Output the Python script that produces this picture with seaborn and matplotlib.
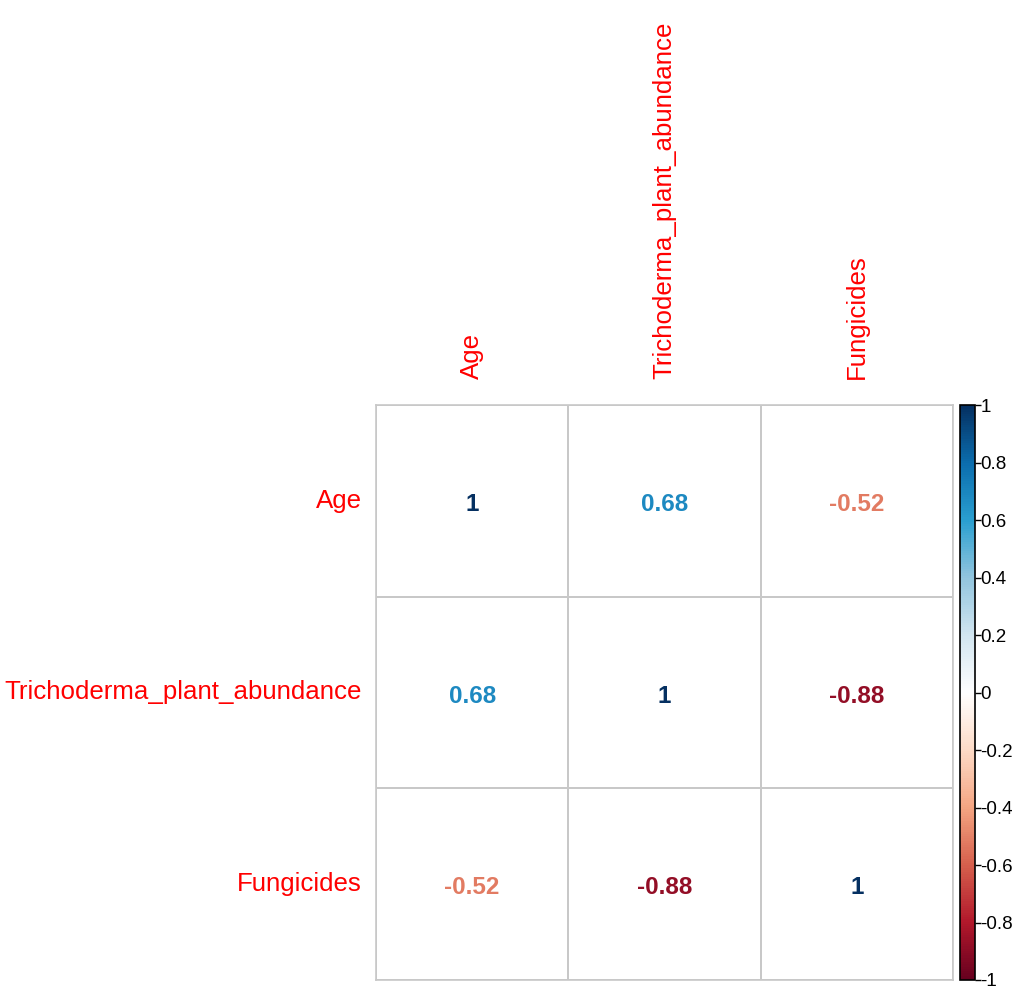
import numpy as np
import pandas as pd
import matplotlib
matplotlib.use("Agg")
import matplotlib.pyplot as plt
import seaborn as sns
from matplotlib.colors import LinearSegmentedColormap, ListedColormap, Normalize
from matplotlib.colorbar import ColorbarBase

variables = ["Age", "Trichoderma_plant_abundance", "Fungicides"]
corr_values = [
    [1.00, 0.68, -0.52],
    [0.68, 1.00, -0.88],
    [-0.52, -0.88, 1.00],
]
cbar_ticks = [1, 0.8, 0.6, 0.4, 0.2, 0, -0.2, -0.4, -0.6, -0.8, -1]

plt.rcParams['font.family'] = ['Liberation Sans', 'DejaVu Sans']
plt.rcParams['axes.unicode_minus'] = False

corr = pd.DataFrame(corr_values, index=variables, columns=variables)

# corrplot-like red/blue palette
col2 = LinearSegmentedColormap.from_list("col2", [
    "#67001F", "#B2182B", "#D6604D", "#F4A582", "#FDDBC7", "#FFFFFF",
    "#D1E5F0", "#92C5DE", "#2A9FD0", "#0B6DAE", "#053061"])
norm = Normalize(-1, 1)

labels = corr.map(lambda v: "1" if v == 1 else f"{v:.2f}")

fig = plt.figure(figsize=(10.14, 9.9), dpi=100)
ax = fig.add_axes([376 / 1014, 1 - 980 / 990, 577 / 1014, 575 / 990])
sns.heatmap(corr, ax=ax, cmap=ListedColormap(["white"]), cbar=False,
            linewidths=1.2, linecolor="#c8c8c8",
            annot=labels.values, fmt="",
            annot_kws={"fontsize": 17.5, "fontweight": "bold"})

for txt, v in zip(ax.texts, np.array(corr_values).ravel()):
    txt.set_color(col2(norm(v)))
    x, y = txt.get_position()
    txt.set_position((x, y + 0.02))

ax.xaxis.tick_top()
ax.set_xticklabels(variables, rotation=90, color="red", fontsize=18.6)
ax.set_yticklabels(variables, rotation=0, color="red", fontsize=18.6)
ax.tick_params(axis="x", length=0, pad=19)
ax.tick_params(axis="y", length=0, pad=10)
ax.set_xlabel("")
ax.set_ylabel("")
for s in ax.spines.values():
    s.set_visible(True)
    s.set_color("#c8c8c8")
    s.set_linewidth(1.2)

cax = fig.add_axes([960 / 1014, 1 - 980 / 990, 15 / 1014, 575 / 990])
cb = ColorbarBase(cax, cmap=col2, norm=norm, ticks=cbar_ticks)
cb.set_ticklabels([f"{t:g}" for t in cbar_ticks])
cb.outline.set_linewidth(1.2)
cax.tick_params(length=4, width=1, labelsize=13.5, pad=0)

plt.savefig("out.png", dpi=100)
